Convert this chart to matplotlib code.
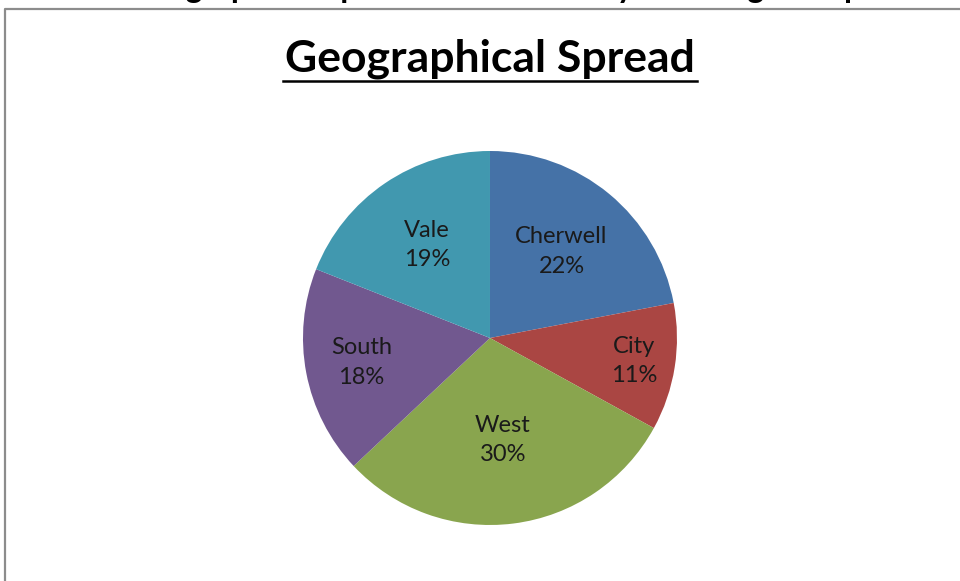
import matplotlib
matplotlib.use('Agg')
import matplotlib.pyplot as plt
from matplotlib.lines import Line2D
import numpy as np

plt.rcParams['font.family'] = ['Lato', 'DejaVu Sans']

# Data
areas = ['Cherwell', 'City', 'West', 'South', 'Vale']
shares = [22, 11, 30, 18, 19]
colors = ['#4572A7', '#AA4643', '#89A54E', '#71588F', '#4198AF']
# how far out each label sits (fraction of radius)
label_r = [0.60, 0.78, 0.55, 0.70, 0.60]

fig = plt.figure(figsize=(9.6, 5.81), dpi=100)
fig.patch.set_facecolor('white')

# cut-off heading from the document above the chart
fig.text(0.005, 1.0 + 2 / 581, 'Chart 4: Geographical Spread of Community Learning Groups',
         ha='left', va='baseline', fontsize=23, fontweight='bold', color='black')

# chart border (left and top edges visible)
fig.add_artist(Line2D([5 / 960, 5 / 960, 1.0], [0.0, 1 - 9 / 581, 1 - 9 / 581],
                      transform=fig.transFigure, color='#8c8c8c', linewidth=1.6))

# title, underlined
fig.text(490 / 960, 1 - 59 / 581, 'Geographical Spread', ha='center', va='center',
         fontsize=32, fontweight='bold', color='black')
fig.add_artist(Line2D([283 / 960, 697 / 960], [1 - 81 / 581, 1 - 81 / 581],
                      transform=fig.transFigure, color='black', linewidth=1.8))

ax = fig.add_axes([0.3156, 0.0964, 0.3896, 0.6437])
wedges, _ = ax.pie(shares, colors=colors, startangle=90, counterclock=False,
                   radius=1, wedgeprops=dict(linewidth=0))
ax.set_xlim(-1, 1)
ax.set_ylim(-1, 1)
ax.set_aspect('equal')
ax.axis('off')

for w, name, val, r in zip(wedges, areas, shares, label_r):
    mid = np.deg2rad((w.theta1 + w.theta2) / 2)
    ax.text(r * np.cos(mid), r * np.sin(mid), f'{name}\n{val}%', ha='center', va='center',
            fontsize=17, color='#1a1a1a', linespacing=1.5)

plt.savefig('out.png', dpi=100, facecolor='white')
